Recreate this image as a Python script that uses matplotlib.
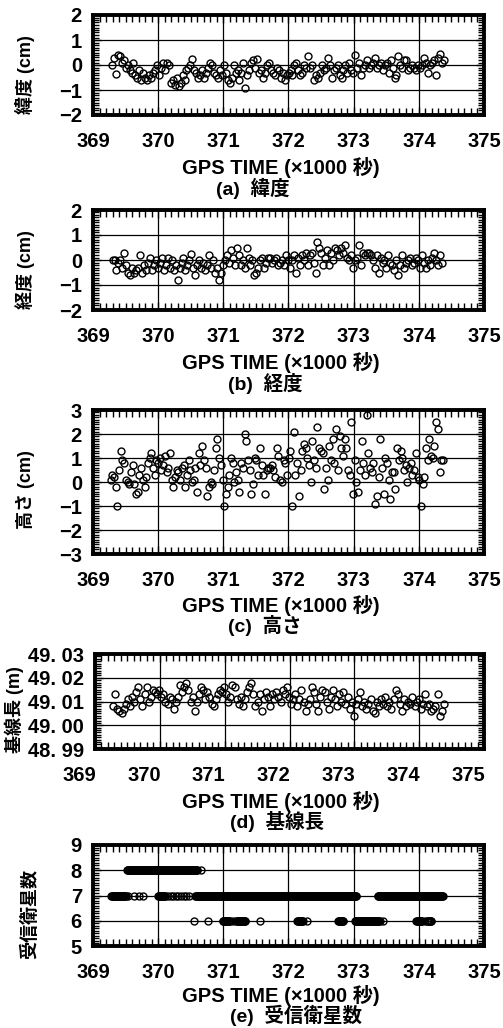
import numpy as np
import matplotlib
matplotlib.use('Agg')
import matplotlib.pyplot as plt
from matplotlib.ticker import MultipleLocator, FixedLocator, FixedFormatter
from matplotlib.transforms import ScaledTranslation

plt.rcParams['font.family'] = ['Liberation Sans', 'Noto Sans CJK JP']
plt.rcParams['font.weight'] = 'bold'

W, H = 503, 1028

# (a) latitude, cm
lat_t0, lat_t1 = 369.29, 374.38
lat = [0.0, 0.3, -0.35, 0.4, 0.35, 0.1, 0.2, -0.1, 0.0, -0.2,
       -0.3, 0.1, -0.4, -0.5, -0.2, -0.6, -0.3, -0.5, -0.6, -0.4,
       -0.5, -0.3, -0.2, 0.0, -0.4, -0.1, 0.1, -0.2, 0.1, 0.0,
       -0.7, -0.6, -0.8, -0.5, -0.85, -0.7, -0.4, -0.6, -0.2, -0.1,
       0.0, 0.25, -0.2, -0.3, -0.5, -0.4, -0.2, -0.5, -0.3, -0.1,
       0.1, 0.0, -0.3, -0.4, -0.5, -0.2, -0.4, 0.0, -0.3, -0.6,
       -0.7, -0.5, 0.0, -0.3, -0.2, -0.6, -0.3, 0.1, -0.9, -0.4,
       -0.2, 0.1, 0.2, -0.1, 0.25, -0.3, -0.2, -0.5, -0.3, 0.0,
       0.1, -0.2, -0.3, -0.4, -0.1, -0.2, -0.5, -0.3, -0.6, -0.4,
       -0.3, -0.2, -0.4, 0.0, 0.1, -0.2, -0.4, -0.3, 0.0, -0.1,
       0.35, -0.1, 0.0, -0.6, -0.4, -0.5, -0.3, 0.0, -0.2, -0.1,
       0.3, 0.0, -0.5, -0.2, -0.1, 0.0, -0.4, -0.5, -0.2, 0.0,
       -0.3, 0.1, -0.2, -0.3, 0.4, -0.1, 0.1, -0.4, -0.1, 0.0,
       0.2, -0.1, 0.0, 0.1, 0.3, -0.1, 0.0, 0.1, -0.2, 0.0,
       0.1, -0.3, 0.2, -0.1, -0.5, -0.4, 0.35, 0.0, -0.1, 0.2,
       0.2, -0.2, -0.1, 0.0, -0.1, -0.2, 0.0, -0.1, 0.0, 0.3,
       0.1, -0.3, 0.0, 0.1, 0.2, -0.4, 0.3, 0.45, 0.1, 0.2]

# (b) longitude, cm
lon_t0, lon_t1 = 369.30, 374.35
lon = [0.0, 0.0, -0.4, -0.1, 0.0, -0.3, 0.3, -0.2, -0.5, -0.6,
       -0.3, -0.5, -0.4, -0.3, 0.2, -0.5, -0.2, -0.4, -0.1, 0.1,
       -0.4, -0.2, 0.0, -0.3, -0.1, 0.1, -0.4, -0.2, 0.1, -0.3,
       0.0, -0.4, -0.2, -0.8, -0.3, -0.1, 0.1, -0.4, -0.2, 0.0,
       0.25, -0.3, -0.6, -0.2, 0.0, -0.3, -0.1, -0.4, -0.2, 0.2,
       -0.3, 0.0, -0.5, -0.3, -0.8, -0.5, -0.2, 0.0, 0.2, -0.1,
       0.4, 0.1, -0.2, 0.5, 0.2, -0.2, 0.0, -0.3, 0.5, 0.1,
       -0.2, 0.0, -0.6, -0.5, -0.3, 0.0, 0.1, -0.3, -0.1, 0.1,
       0.1, -0.1, 0.0, 0.1, -0.2, -0.1, 0.0, -0.2, 0.2, 0.0,
       -0.3, 0.0, 0.2, -0.5, 0.1, -0.2, 0.2, 0.0, 0.3, -0.2,
       0.2, 0.3, -0.1, -0.5, 0.7, 0.5, 0.3, -0.2, 0.1, 0.4,
       -0.2, 0.3, 0.0, 0.5, 0.4, 0.2, 0.5, 0.3, 0.6, 0.1,
       0.0, 0.2, -0.3, 0.0, 0.1, 0.6, -0.2, 0.3, 0.2, 0.3,
       0.3, 0.2, 0.0, -0.3, 0.2, -0.5, 0.1, -0.1, 0.0, -0.3,
       0.2, -0.1, -0.2, -0.4, 0.0, -0.6, -0.2, 0.2, -0.3, -0.1,
       0.0, 0.1, -0.2, -0.1, 0.1, 0.0, -0.3, 0.2, -0.1, -0.3,
       0.0, -0.2, 0.1, 0.3, 0.0, -0.2, 0.2, -0.1]

# (c) height, cm
hgt_t0, hgt_t1 = 369.27, 374.37
hgt = [0.1, 0.3, 0.2, -0.2, -1.0, 0.5, 1.3, 0.9, 0.8, 0.1,
       0.0, -0.1, 0.4, 0.7, -0.1, -0.5, -0.4, 0.3, 0.6, 0.1,
       -0.2, 0.2, 0.8, 1.0, 1.2, 0.6, 0.3, 0.9, 0.8, 1.0,
       0.5, 0.7, 1.1, 0.4, 0.6, 1.2, 0.1, -0.2, 0.2, 0.5,
       0.4, 0.1, 0.6, 0.7, -0.2, 0.3, 0.9, 0.5, 0.0, 0.1,
       0.6, -0.4, 1.2, 0.7, 1.5, 0.9, 0.6, -0.6, -0.2, 0.0,
       -0.1, 0.5, 1.4, 1.8, 1.0, 0.7, 0.1, -1.0, -0.5, -0.2,
       0.3, 1.0, 0.8, 0.0, 0.4, 0.1, -0.4, 0.8, 0.6, 2.0,
       1.7, 0.9, 0.5, -0.5, -0.1, 1.0, 0.9, 0.3, 1.4, 0.7,
       0.3, -0.5, 0.5, 0.6, 0.6, 0.7, 0.5, 0.2, 1.4, 1.1,
       0.1, 0.0, 0.9, 0.8, 0.3, 1.0, 1.3, -1.0, 2.1, 0.3,
       0.8, -0.6, 0.5, 1.3, 1.6, 1.4, 1.0, 0.7, 0.0, 1.7,
       0.9, 0.6, 2.3, 1.4, 1.3, 1.2, -0.3, 0.6, 0.1, 1.5,
       0.9, 1.8, 0.8, 2.2, 0.5, 1.9, 1.4, 1.1, 1.8, 1.4,
       0.5, 0.3, 2.5, -0.5, 0.9, 0.0, -0.4, 0.5, 1.7, 0.8,
       0.3, 2.8, 1.2, 0.6, 0.4, 0.8, -0.9, -0.6, 0.2, 1.8,
       0.6, -0.5, 1.0, 0.8, 0.1, -0.7, 0.4, 0.4, -0.3, 1.4,
       0.9, 1.3, 1.0, 0.5, 0.7, 0.0, 0.6, 0.8, 0.3, 0.5,
       1.2, 0.2, 0.1, -1.0, -0.1, 0.2, 1.4, 0.9, 1.8, 1.1,
       1.0, 1.5, 2.5, 2.2, 0.4, 0.9, 0.9]

# (d) baseline length, m
bl_t0, bl_t1 = 369.28, 374.38
bl = [49.008, 49.013, 49.007, 49.006, 49.005, 49.007, 49.009, 49.011, 49.008, 49.012,
      49.010, 49.014, 49.016, 49.011, 49.008, 49.013, 49.016, 49.010, 49.012, 49.015,
      49.014, 49.013, 49.015, 49.012, 49.013, 49.010, 49.009, 49.012, 49.011, 49.007,
      49.010, 49.012, 49.017, 49.014, 49.016, 49.018, 49.015, 49.010, 49.012, 49.006,
      49.010, 49.013, 49.016, 49.015, 49.011, 49.014, 49.012, 49.009, 49.008, 49.011,
      49.013, 49.015, 49.014, 49.016, 49.013, 49.010, 49.012, 49.017, 49.016, 49.011,
      49.009, 49.012, 49.008, 49.011, 49.014, 49.016, 49.018, 49.013, 49.008, 49.010,
      49.013, 49.006, 49.011, 49.014, 49.012, 49.008, 49.013, 49.011, 49.014, 49.012,
      49.010, 49.015, 49.013, 49.016, 49.012, 49.009, 49.011, 49.013, 49.008, 49.011,
      49.015, 49.010, 49.006, 49.009, 49.011, 49.016, 49.014, 49.009, 49.006, 49.012,
      49.015, 49.014, 49.010, 49.007, 49.012, 49.015, 49.011, 49.008, 49.013, 49.010,
      49.014, 49.009, 49.012, 49.007, 49.010, 49.004, 49.009, 49.011, 49.014, 49.008,
      49.010, 49.007, 49.009, 49.011, 49.006, 49.005, 49.010, 49.008, 49.011, 49.009,
      49.012, 49.008, 49.010, 49.007, 49.011, 49.015, 49.013, 49.009, 49.006, 49.011,
      49.008, 49.010, 49.009, 49.012, 49.008, 49.010, 49.011, 49.007, 49.009, 49.013,
      49.008, 49.009, 49.006, 49.007, 49.008, 49.013, 49.004, 49.006, 49.009]

# (e) satellites: dense runs (start, end) and single epochs
sat_step = 0.01
sat8_runs = [(369.52, 370.60)]
sat8_pts = [370.65]
sat7_runs = [(369.28, 369.50), (370.00, 370.11), (370.57, 373.04), (373.37, 374.37)]
sat7_pts = [369.54, 369.63, 369.70, 369.76, 370.15, 370.19, 370.23, 370.27,
            370.31, 370.35, 370.39, 370.43, 370.47]
sat6_runs = [(370.99, 371.10), (371.20, 371.34), (372.13, 372.22), (372.76, 372.84),
             (373.02, 373.40), (373.96, 374.05), (374.13, 374.19)]
sat6_pts = [370.55, 370.77, 371.15, 371.57, 372.29, 373.45, 374.10]

xticks = [369, 370, 371, 372, 373, 374, 375]
xlabel = 'GPS TIME (×1000 秒)'


def px(x, y):
    return x / W, 1 - y / H


def make_ax(fig, top, bottom, left=93, right=484):
    l, t = px(left, top)
    r, b = px(right, bottom)
    return fig.add_axes([l, b, r - l, t - b])


def style(ax, ylo, yhi, ymaj, ymin):
    ax.set_xlim(369, 375)
    ax.set_ylim(ylo, yhi)
    ax.set_xticks(xticks)
    ax.xaxis.set_minor_locator(MultipleLocator(0.1))
    ax.yaxis.set_major_locator(MultipleLocator(ymaj))
    ax.yaxis.set_minor_locator(MultipleLocator(ymin))
    ax.grid(True, which='major', color='black', lw=0.9)
    ax.tick_params(which='both', direction='in', top=True, right=True,
                   labelsize=14.5, width=1.0)
    ax.tick_params(axis='x', which='major', length=6, pad=12)
    ax.tick_params(axis='x', which='minor', length=5)
    ax.tick_params(axis='y', which='major', length=6, pad=8)
    ax.tick_params(axis='y', which='minor', length=4)
    for s in ax.spines.values():
        s.set_linewidth(2.8)
    for lab in ax.get_xticklabels() + ax.get_yticklabels():
        lab.set_fontweight('bold')


def scatter(ax, t, v):
    ax.plot(t, v, 'o', ms=5.0, mfc='none', mec='black', mew=1.0, zorder=3)


def texts(fig, ylab, ylab_x, ylab_y, xl_y, cap, cap_x, cap_y):
    fig.text(*px(ylab_x, ylab_y), ylab, rotation=90, ha='center', va='center',
             fontsize=13, fontweight='bold')
    fig.text(*px(281, xl_y), xlabel, ha='center', va='center',
             fontsize=14.5, fontweight='bold')
    fig.text(*px(cap_x, cap_y), cap, ha='left', va='center',
             fontsize=14, fontweight='bold')


fig = plt.figure(figsize=(W / 100, H / 100), dpi=100)

# (a)
ax = make_ax(fig, 15, 115)
style(ax, -2, 2, 1, 0.1)
scatter(ax, np.linspace(lat_t0, lat_t1, len(lat)), lat)
texts(fig, '緯度 (cm)', 25, 75, 167, '(a)  緯度', 216, 188)

# (b)
ax = make_ax(fig, 210, 310)
style(ax, -2, 2, 1, 0.1)
scatter(ax, np.linspace(lon_t0, lon_t1, len(lon)), lon)
texts(fig, '経度 (cm)', 25, 270, 362, '(b)  経度', 228, 383)

# (c)
ax = make_ax(fig, 410, 554)
style(ax, -3, 3, 1, 0.1)
scatter(ax, np.linspace(hgt_t0, hgt_t1, len(hgt)), hgt)
texts(fig, '高さ (cm)', 25, 490, 605, '(c)  高さ', 228, 625)

# (d)
ax = make_ax(fig, 654, 749, left=95)
style(ax, 48.99, 49.03, 0.01, 0.001)
ax.yaxis.set_major_locator(FixedLocator([48.99, 49.00, 49.01, 49.02, 49.03]))
ax.yaxis.set_major_formatter(FixedFormatter(['48. 99', '49. 00', '49. 01', '49. 02', '49. 03']))
for lab in ax.get_yticklabels():
    lab.set_fontweight('bold')
shift = ScaledTranslation(-16 / 100, 0, fig.dpi_scale_trans)
for lab in ax.get_xticklabels():
    lab.set_transform(lab.get_transform() + shift)
scatter(ax, np.linspace(bl_t0, bl_t1, len(bl)), bl)
texts(fig, '基線長 (m)', 14, 710, 801, '(d)  基線長', 230, 822)

# (e)
ax = make_ax(fig, 845, 946)
style(ax, 5, 9, 1, 0.1)
for level, runs, pts in [(8, sat8_runs, sat8_pts), (7, sat7_runs, sat7_pts), (6, sat6_runs, sat6_pts)]:
    tt = list(pts)
    for a, b in runs:
        tt += list(np.arange(a, b + 1e-9, sat_step))
    tt = np.array(tt)
    scatter(ax, tt, np.full(len(tt), level))
texts(fig, '受信衛星数', 30, 914, 996, '(e)  受信衛星数', 230, 1015)

fig.savefig('out.png', dpi=100)
